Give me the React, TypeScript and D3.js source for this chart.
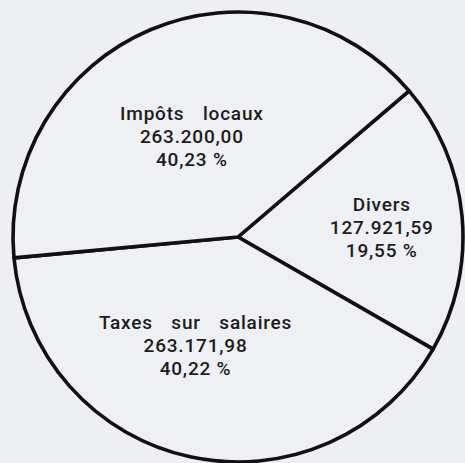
import React from "react";
import * as d3 from "d3";

// Data
const categories = ["Divers", "Taxes sur salaires", "Impôts locaux"];
const amounts = [127921.59, 263171.98, 263200.0];

// Layout (label placement relative to slice centroid direction)
const labelRadius = [144, 117, 110];
const labelAngleNudgeDeg = [1.9, 9, -1.9];

const W = 465;
const H = 463;
const cx = 238;
const cy = 237;
const R = 225;
const startDeg = 49.5;

const fr = d3.formatLocale({
  decimal: ",",
  thousands: ".",
  grouping: [3],
  currency: ["", ""],
});
const fmtAmount = fr.format(",.2f");
const fmtPct = fr.format(".2f");

export default function App() {
  const total = d3.sum(amounts);
  const data = categories.map((c, i) => ({ name: c, value: amounts[i], i }));
  const s = (startDeg * Math.PI) / 180;
  const pie = d3
    .pie<any>()
    .sort(null)
    .value((d: any) => d.value)
    .startAngle(s)
    .endAngle(s + 2 * Math.PI);
  const arcs = pie(data);
  const arcGen = d3.arc<any>().innerRadius(0).outerRadius(R);

  return (
    <svg
      width={W}
      height={H}
      style={{ position: "fixed", left: 0, top: 0, background: "#edeff3" }}
    >
      <rect x={0} y={0} width={W} height={H} fill="#edeff3" />
      <g transform={`translate(${cx},${cy})`}>
        {arcs.map((a: any, i: number) => (
          <path
            key={i}
            d={arcGen(a) as string}
            fill="#eef0f4"
            stroke="#111"
            strokeWidth={3.6}
            strokeLinejoin="round"
          />
        ))}
        {arcs.map((a: any, i: number) => {
          const mid =
            (a.startAngle + a.endAngle) / 2 +
            (labelAngleNudgeDeg[i] * Math.PI) / 180;
          const r = labelRadius[i];
          const x = Math.sin(mid) * r;
          const y = -Math.cos(mid) * r;
          const pct = (a.data.value / total) * 100;
          const lines = [
            a.data.name,
            fmtAmount(a.data.value),
            fmtPct(pct) + " %",
          ];
          return (
            <text
              key={"t" + i}
              x={x}
              y={y}
              textAnchor="middle"
              fontFamily="Roboto, 'Liberation Sans', Arial, sans-serif"
              fontWeight={500}
              fontSize={19}
              letterSpacing={0.8}
              fill="#1c1c1c"
            >
              {lines.map((l, k) => (
                <tspan
                  key={k}
                  x={x}
                  y={y + (k - 1) * 23 + 6}
                  wordSpacing={k === 0 ? 13 : 0}
                >
                  {l}
                </tspan>
              ))}
            </text>
          );
        })}
      </g>
    </svg>
  );
}
